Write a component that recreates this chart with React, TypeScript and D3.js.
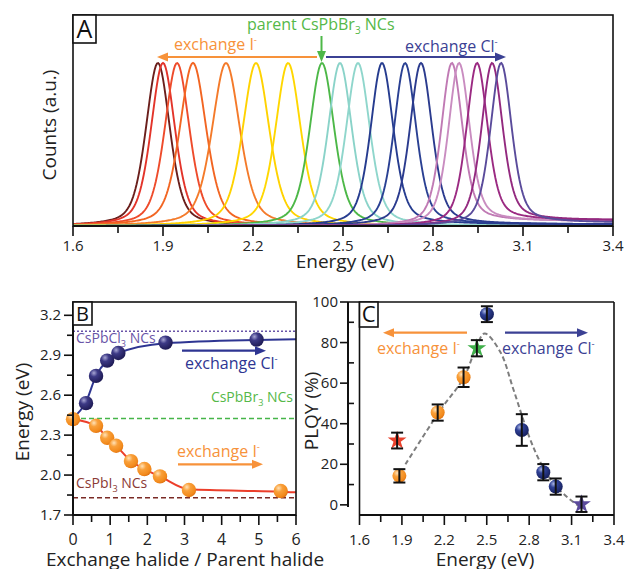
import React from 'react';
import * as d3 from 'd3';

// ---------- Panel A: PL spectra (peak parameters) ----------
const peakCenters = [1.883, 1.9, 1.947, 2.0, 2.11, 2.21, 2.317, 2.43, 2.49, 2.55, 2.63, 2.707, 2.76, 2.863, 2.887, 2.947, 2.997, 3.027];
const peakWidths = [0.095, 0.095, 0.098, 0.105, 0.11, 0.105, 0.1, 0.097, 0.094, 0.094, 0.09, 0.088, 0.088, 0.084, 0.084, 0.084, 0.084, 0.084];
const peakTails = [0, 0, 0, 0, 0, 0, 0, 0, 0, 0, 0.01, 0.01, 0.01, 0.03, 0.03, 0.035, 0.035, 0.02];
const peakColors = ['#6b1f1c', '#e3342a', '#ee4b2b', '#f26522', '#f47a2a', '#ffd200', '#ffd700', '#4db848', '#8ad3c9', '#8fd6cc', '#263c8f', '#2a4093', '#2b3b8e', '#c07ab4', '#c98cc0', '#9b2a82', '#93297f', '#5a4b9b'];
const aMajor = [1.6, 1.9, 2.2, 2.5, 2.8, 3.1, 3.4];
const aMinor = [1.75, 2.05, 2.35, 2.65, 2.95, 3.25];

// ---------- Panel B: emission energy vs. halide ratio ----------
const clRatio = [0.35, 0.62, 0.92, 1.22, 2.49, 4.94];
const clEnergy = [2.54, 2.745, 2.86, 2.917, 2.995, 3.018];
const iRatio = [0, 0.62, 0.92, 1.16, 1.56, 1.92, 2.34, 3.12, 5.59];
const iEnergy = [2.42, 2.37, 2.28, 2.22, 2.105, 2.045, 1.99, 1.888, 1.88];
const clFitX = [0, 0.35, 0.62, 0.92, 1.22, 2.49, 4.94, 6];
const clFitY = [2.43, 2.55, 2.745, 2.86, 2.915, 2.99, 3.015, 3.02];
const iFitX = [0, 0.62, 0.92, 1.16, 1.56, 1.92, 2.34, 3.12, 5.59, 6];
const iFitY = [2.42, 2.37, 2.28, 2.22, 2.105, 2.045, 1.99, 1.893, 1.875, 1.87];
const clLevel = 3.08;
const brLevel = 2.425;
const iLevel = 1.83;
const bxMajor = [0, 1, 2, 3, 4, 5, 6];
const bxMinor = [0.5, 1.5, 2.5, 3.5, 4.5, 5.5];
const byMajor = [1.7, 2.0, 2.3, 2.6, 2.9, 3.2];
const byMinor = [1.85, 2.15, 2.45, 2.75, 3.05];

// ---------- Panel C: PLQY vs energy ----------
const plIE = [1.882, 2.153, 2.336];
const plIV = [14.3, 45.5, 62.9];
const plIErr = [3.3, 4, 4.8];
const plClE = [2.501, 2.748, 2.9, 2.988];
const plClV = [94, 36.9, 16.1, 9.0];
const plClErr = [3.9, 7.8, 4, 4];
const starE = [1.866, 2.43, 3.17];
const starV = [31.7, 77.2, 0.3];
const starErr = [3.9, 4, 3.8];
const starColors = ['#e8412c', '#3fb04a', '#5b4a9c'];
const trendE = [1.925, 2.17, 2.34, 2.43, 2.485, 2.595, 2.69, 2.8, 2.877, 2.97, 3.066, 3.17];
const trendV = [20, 46.5, 63, 78.5, 84.5, 75.5, 56.6, 33.6, 21.3, 10.7, 4, -1.5];
const cxMajor = [1.6, 1.9, 2.2, 2.5, 2.8, 3.1, 3.4];
const cxMinor = [1.75, 2.05, 2.35, 2.65, 2.95, 3.25];
const cyMajor = [0, 20, 40, 60, 80, 100];
const cyMinor = [10, 30, 50, 70, 90];

const FONT = "'Open Sans', 'Noto Sans', sans-serif";
const ORANGE_T = '#f7923a';
const NAVY_T = '#3b4194';
const GREEN_T = '#55b848';

function pseudoVoigt(x: number, c: number, w: number, tail: number) {
  const d = (x - c) / w;
  const g = Math.exp(-4 * Math.LN2 * d * d);
  const l = 1 / (1 + 4 * d * d);
  const s = 1 / (1 + Math.exp(-(x - c) / 0.03));
  const v = 0.55 * g + 0.45 * l;
  return v + tail * s * (1 - v);
}

function Arrow({ x1, y1, x2, y2, color, w = 2.2 }: any) {
  const ang = Math.atan2(y2 - y1, x2 - x1);
  const hl = 11, hw = 4.5;
  const bx = x2 - hl * Math.cos(ang), by = y2 - hl * Math.sin(ang);
  const px = -Math.sin(ang) * hw, py = Math.cos(ang) * hw;
  return (
    <g>
      <line x1={x1} y1={y1} x2={bx} y2={by} stroke={color} strokeWidth={w} />
      <polygon points={`${x2},${y2} ${bx + px},${by + py} ${bx - px},${by - py}`} fill={color} />
    </g>
  );
}

function Ex({ x, y, halide, color, size = 16, anchor = 'start' }: any) {
  return (
    <text x={x} y={y} fill={color} fontSize={size} fontFamily={FONT} textAnchor={anchor}>
      exchange {halide}<tspan dy={-7} fontSize={size * 0.6}>-</tspan>
    </text>
  );
}

function Compound({ x, y, pre, color, size = 14, anchor = 'start' }: any) {
  return (
    <text x={x} y={y} fill={color} fontSize={size} fontFamily={FONT} textAnchor={anchor}>
      {pre}<tspan dy={4} fontSize={size * 0.65}>3</tspan><tspan dy={-4}> NCs</tspan>
    </text>
  );
}

export default function App() {
  // Panel A scales
  const xA = d3.scaleLinear().domain([1.6, 3.4]).range([73, 613]);
  const yA = d3.scaleLinear().domain([0, 1]).range([226, 63]);
  const grid = d3.range(0, 451).map((i) => 1.6 + i * 0.004);

  // Panel B scales
  const xB = d3.scaleLinear().domain([0, 6]).range([73, 296]);
  const yB = d3.scaleLinear().domain([1.7, 3.3]).range([515, 302]);
  const fitLine = d3.line<[number, number]>().x((d) => xB(d[0])).y((d) => yB(d[1])).curve(d3.curveMonotoneX);

  // Panel C scales
  const xC = d3.scaleLinear().domain([1.6, 3.4]).range([359.5, 614]);
  const yC = d3.scaleLinear().domain([-5, 100]).range([515, 302]);
  const trendLine = d3.line<[number, number]>().x((d) => xC(d[0])).y((d) => yC(d[1])).curve(d3.curveCatmullRom);
  const starPath = d3.symbol().type(d3.symbolStar).size(110)();

  const tickFont = 15;

  return (
    <svg width={627} height={569} style={{ position: 'absolute', left: 0, top: 0, background: '#fff' }} fontFamily={FONT}>
      <defs>
        <radialGradient id="ballOrange" cx="0.35" cy="0.3" r="0.75">
          <stop offset="0" stopColor="#ffe2b8" />
          <stop offset="0.35" stopColor="#f9a03a" />
          <stop offset="0.8" stopColor="#f28a1c" />
          <stop offset="1" stopColor="#dd6f10" />
        </radialGradient>
        <radialGradient id="ballPurple" cx="0.35" cy="0.3" r="0.75">
          <stop offset="0" stopColor="#a8a6d4" />
          <stop offset="0.35" stopColor="#3d3a86" />
          <stop offset="1" stopColor="#1c1850" />
        </radialGradient>
        <radialGradient id="ballNavy" cx="0.35" cy="0.3" r="0.75">
          <stop offset="0" stopColor="#a9b6e6" />
          <stop offset="0.35" stopColor="#2f4196" />
          <stop offset="1" stopColor="#141d58" />
        </radialGradient>
      </defs>

      {/* ================= Panel A ================= */}
      <g>
        {peakCenters.map((c, k) => {
          const gen = d3.line<number>().x((e) => xA(e)).y((e) => yA(pseudoVoigt(e, c, peakWidths[k], peakTails[k])));
          return <path key={k} d={gen(grid) || ''} fill="none" stroke={peakColors[k]} strokeWidth={1.9} />;
        })}
        <rect x={73} y={15} width={540} height={211} fill="none" stroke="#111" strokeWidth={1.6} />
        <line x1={73} y1={226} x2={613} y2={226} stroke="#111" strokeWidth={2} />
        {aMajor.map((t) => (
          <g key={t}>
            <line x1={xA(t)} y1={226} x2={xA(t)} y2={236} stroke="#111" strokeWidth={1.6} />
            <text x={xA(t)} y={251} fontSize={tickFont} textAnchor="middle" fill="#222">{t.toFixed(1)}</text>
          </g>
        ))}
        {aMinor.map((t) => (
          <line key={t} x1={xA(t)} y1={226} x2={xA(t)} y2={233} stroke="#111" strokeWidth={1.6} />
        ))}
        <text x={345} y={268} fontSize={19} textAnchor="middle" fill="#222">Energy (eV)</text>
        <text transform="translate(56,125) rotate(-90)" fontSize={19} textAnchor="middle" fill="#222">Counts (a.u.)</text>
        <rect x={73} y={15} width={23} height={28} fill="#fff" stroke="#111" strokeWidth={1.6} />
        <text x={84.5} y={38} fontSize={25} textAnchor="middle" fill="#111">A</text>

        <text x={247} y={30} fontSize={16} fill={GREEN_T}>
          parent CsPbBr<tspan dy={4} fontSize={10}>3</tspan><tspan dy={-4}> NCs</tspan>
        </text>
        <Arrow x1={321.5} y1={36} x2={321.5} y2={62} color="#4db848" w={2} />
        <Arrow x1={317} y1={57} x2={157} y2={57} color={ORANGE_T} />
        <Ex x={174} y={50} halide="I" color={ORANGE_T} />
        <Arrow x1={326} y1={57} x2={506} y2={57} color={NAVY_T} />
        <Ex x={405} y={51.5} halide="Cl" color={NAVY_T} />
      </g>

      {/* ================= Panel B ================= */}
      <g>
        <line x1={xB(0)} x2={xB(6)} y1={yB(clLevel)} y2={yB(clLevel)} stroke="#6a55a8" strokeWidth={1.6} strokeDasharray="2,2" />
        <line x1={xB(0)} x2={xB(6)} y1={yB(brLevel)} y2={yB(brLevel)} stroke="#46b549" strokeWidth={1.6} strokeDasharray="5,3" />
        <line x1={xB(0)} x2={xB(6)} y1={yB(iLevel)} y2={yB(iLevel)} stroke="#7a2a25" strokeWidth={1.6} strokeDasharray="5,3" />
        <path d={fitLine(clFitX.map((x, i) => [x, clFitY[i]] as [number, number])) || ''} fill="none" stroke="#2e3592" strokeWidth={2} />
        <path d={fitLine(iFitX.map((x, i) => [x, iFitY[i]] as [number, number])) || ''} fill="none" stroke="#ec3e2a" strokeWidth={2} />
        {iRatio.map((x, i) => (
          <circle key={'i' + i} cx={xB(x)} cy={yB(iEnergy[i])} r={7.2} fill="url(#ballOrange)" />
        ))}
        {clRatio.map((x, i) => (
          <circle key={'c' + i} cx={xB(x)} cy={yB(clEnergy[i])} r={7.2} fill="url(#ballPurple)" />
        ))}
        <rect x={73} y={302} width={223} height={213} fill="none" stroke="#111" strokeWidth={1.6} />
        <line x1={73} y1={515} x2={296} y2={515} stroke="#111" strokeWidth={2} />
        <line x1={73} y1={302} x2={73} y2={515} stroke="#111" strokeWidth={2} />
        {bxMajor.map((t) => (
          <g key={t}>
            <line x1={xB(t)} y1={515} x2={xB(t)} y2={525} stroke="#111" strokeWidth={1.6} />
            <text x={xB(t)} y={545} fontSize={tickFont + 1} textAnchor="middle" fill="#222">{t}</text>
          </g>
        ))}
        {bxMinor.map((t) => (
          <line key={t} x1={xB(t)} y1={515} x2={xB(t)} y2={522} stroke="#111" strokeWidth={1.6} />
        ))}
        {byMajor.map((t) => (
          <g key={t}>
            <line x1={64} y1={yB(t)} x2={73} y2={yB(t)} stroke="#111" strokeWidth={1.6} />
            <text x={61} y={yB(t) + 5} fontSize={tickFont} textAnchor="end" fill="#222">{t.toFixed(1)}</text>
          </g>
        ))}
        {byMinor.map((t) => (
          <line key={t} x1={67} y1={yB(t)} x2={73} y2={yB(t)} stroke="#111" strokeWidth={1.6} />
        ))}
        <rect x={73} y={302} width={19} height={23} fill="#fff" stroke="#111" strokeWidth={1.6} />
        <text x={82.5} y={321} fontSize={20} textAnchor="middle" fill="#111">B</text>
        <Compound x={76} y={343} pre="CsPbCl" color="#6a55a8" />
        <Compound x={293} y={402} pre="CsPbBr" color={GREEN_T} anchor="end" />
        <Compound x={76} y={488} pre="CsPbI" color="#8b3a34" />
        <Arrow x1={182} y1={350.7} x2={266} y2={350.7} color="#2e3592" />
        <Ex x={185} y={369} halide="Cl" color="#2e3592" />
        <Arrow x1={178} y1={464.3} x2={263} y2={464.3} color={ORANGE_T} />
        <Ex x={177} y={456.7} halide="I" color={ORANGE_T} />
        <text transform="translate(29,412) rotate(-90)" fontSize={19} textAnchor="middle" fill="#222">Energy (eV)</text>
        <text x={185} y={566} fontSize={19} textAnchor="middle" fill="#222">Exchange halide / Parent halide</text>
      </g>

      {/* ================= Panel C ================= */}
      <g>
        <path d={trendLine(trendE.map((e, i) => [e, trendV[i]] as [number, number])) || ''} fill="none" stroke="#7d7d7d" strokeWidth={2} strokeDasharray="5,3" />
        {plIE.map((e, i) => (
          <circle key={'pi' + i} cx={xC(e)} cy={yC(plIV[i])} r={7} fill="url(#ballOrange)" />
        ))}
        {plClE.map((e, i) => (
          <circle key={'pc' + i} cx={xC(e)} cy={yC(plClV[i])} r={7} fill="url(#ballNavy)" />
        ))}
        {starE.map((e, i) => (
          <path key={'s' + i} d={starPath || ''} transform={`translate(${xC(e)},${yC(starV[i])})`} fill={starColors[i]} />
        ))}
        {[...plIE.map((e, i) => [e, plIV[i], plIErr[i]]), ...plClE.map((e, i) => [e, plClV[i], plClErr[i]]), ...starE.map((e, i) => [e, starV[i], starErr[i]])].map((d, i) => {
          const x = xC(d[0]);
          const y1 = yC(d[1] - d[2]);
          const y2 = yC(d[1] + d[2]);
          return (
            <g key={'eb' + i} stroke="#111" strokeWidth={2}>
              <line x1={x} x2={x} y1={y1} y2={y2} />
              <line x1={x - 6} x2={x + 6} y1={y1} y2={y1} />
              <line x1={x - 6} x2={x + 6} y1={y2} y2={y2} />
            </g>
          );
        })}
        <line x1={348} y1={302} x2={614} y2={302} stroke="#111" strokeWidth={1.6} />
        <line x1={614} y1={302} x2={614} y2={515} stroke="#111" strokeWidth={1.6} />
        <line x1={359.5} y1={302} x2={359.5} y2={515} stroke="#111" strokeWidth={1.6} />
        <line x1={359.5} y1={515} x2={614} y2={515} stroke="#111" strokeWidth={2} />
        <line x1={348} y1={302} x2={348} y2={507} stroke="#111" strokeWidth={2} />
        {cxMajor.map((t) => (
          <g key={t}>
            <line x1={xC(t)} y1={515} x2={xC(t)} y2={525} stroke="#111" strokeWidth={1.6} />
            <text x={xC(t)} y={545} fontSize={tickFont} textAnchor="middle" fill="#222">{t.toFixed(1)}</text>
          </g>
        ))}
        {cxMinor.map((t) => (
          <line key={t} x1={xC(t)} y1={515} x2={xC(t)} y2={522} stroke="#111" strokeWidth={1.6} />
        ))}
        {cyMajor.map((t) => (
          <g key={t}>
            <line x1={340} y1={yC(t)} x2={348} y2={yC(t)} stroke="#111" strokeWidth={1.6} />
            <text x={338} y={yC(t) + 5} fontSize={tickFont} textAnchor="end" fill="#222">{t}</text>
          </g>
        ))}
        {cyMinor.map((t) => (
          <line key={t} x1={348} y1={yC(t)} x2={354} y2={yC(t)} stroke="#111" strokeWidth={1.6} />
        ))}
        <rect x={359.5} y={302} width={18.5} height={25} fill="#fff" stroke="#111" strokeWidth={1.6} />
        <text x={368.7} y={322} fontSize={22} textAnchor="middle" fill="#111">C</text>
        <Arrow x1={467} y1={332.7} x2={383} y2={332.7} color={ORANGE_T} />
        <Ex x={377} y={354} halide="I" color={ORANGE_T} />
        <Arrow x1={505} y1={332.7} x2={588} y2={332.7} color={NAVY_T} />
        <Ex x={502} y={354} halide="Cl" color={NAVY_T} />
        <text transform="translate(318,411) rotate(-90)" fontSize={19} textAnchor="middle" fill="#222">PLQY (%)</text>
        <text x={485} y={566} fontSize={19} textAnchor="middle" fill="#222">Energy (eV)</text>
      </g>
    </svg>
  );
}
